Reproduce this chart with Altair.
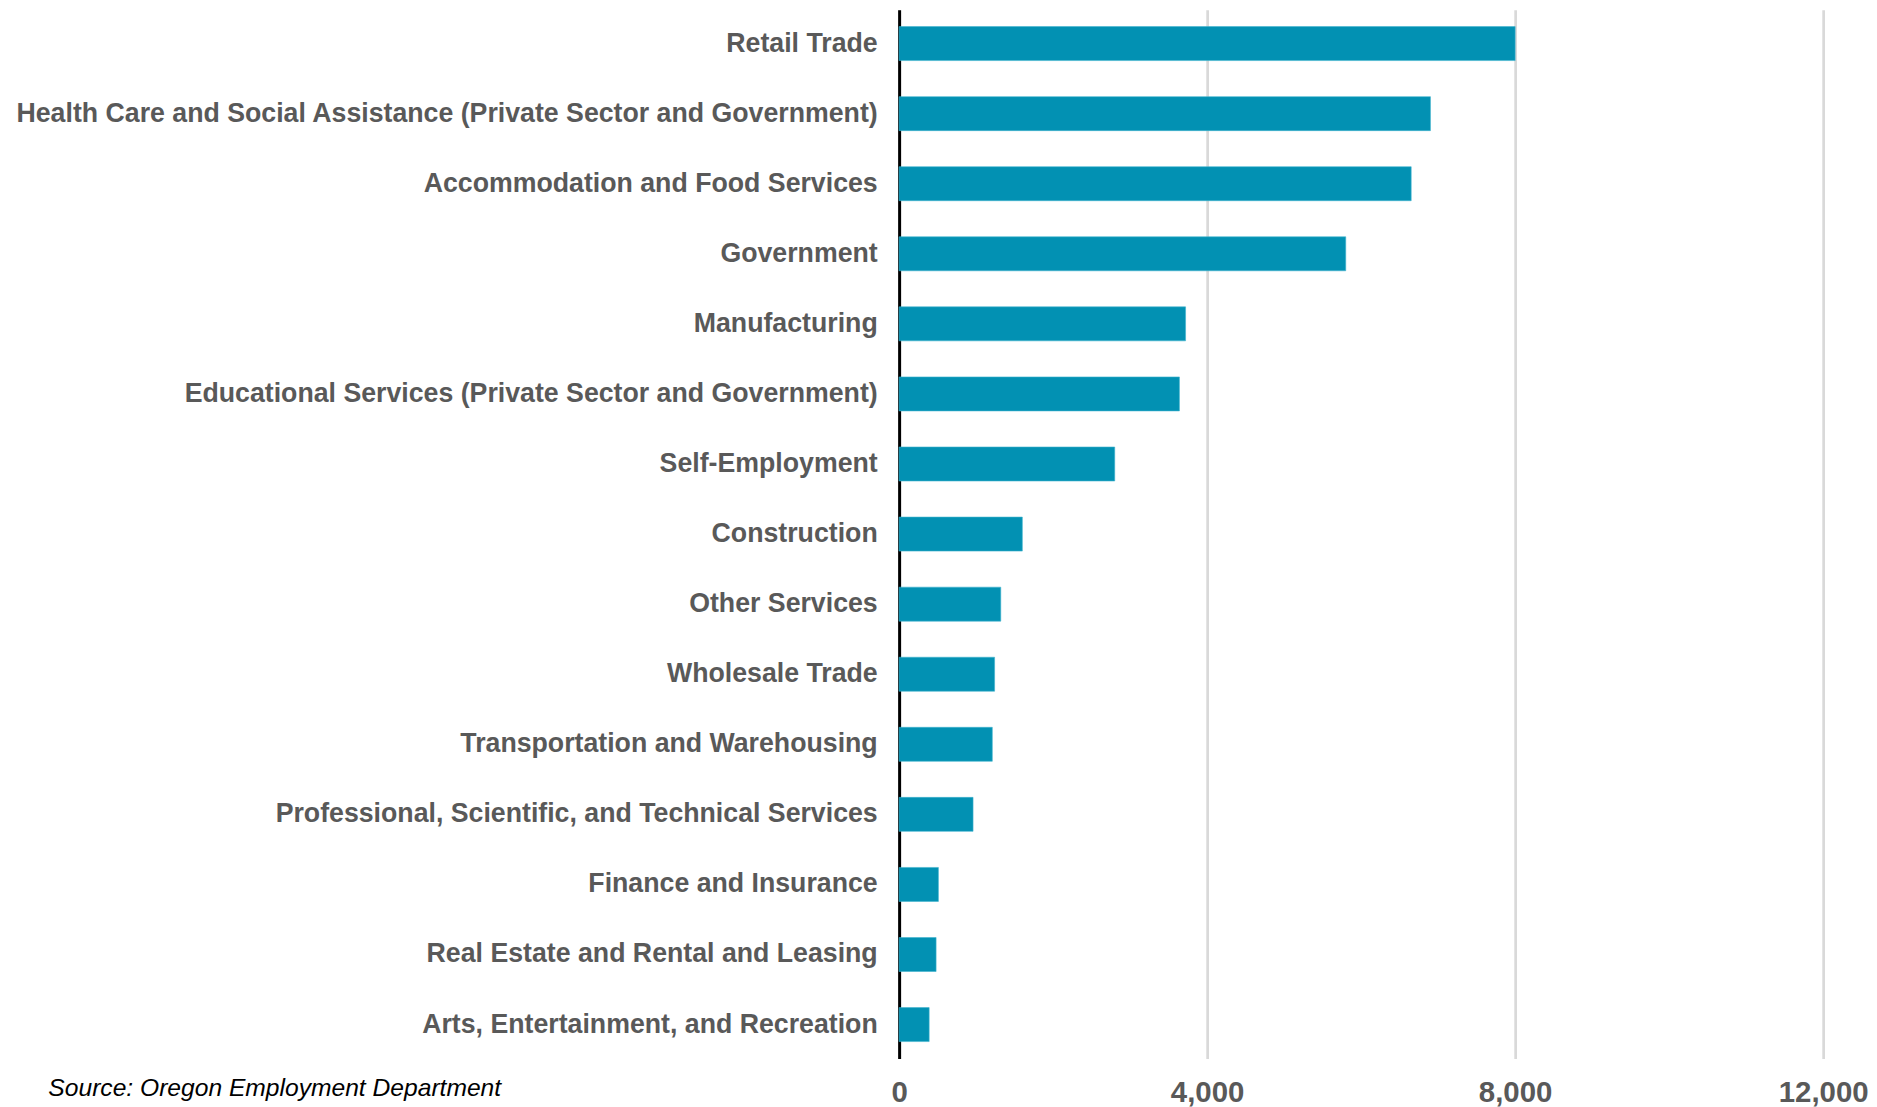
import altair as alt
import pandas as pd

categories = [
    "Retail Trade",
    "Health Care and Social Assistance (Private Sector and Government)",
    "Accommodation and Food Services",
    "Government",
    "Manufacturing",
    "Educational Services (Private Sector and Government)",
    "Self-Employment",
    "Construction",
    "Other Services",
    "Wholesale Trade",
    "Transportation and Warehousing",
    "Professional, Scientific, and Technical Services",
    "Finance and Insurance",
    "Real Estate and Rental and Leasing",
    "Arts, Entertainment, and Recreation",
]
values = [8000, 6900, 6650, 5800, 3720, 3640, 2800, 1600, 1320, 1240, 1210, 960, 510, 480, 390]
x_ticks = [0, 4000, 8000, 12000]
source_note = "Source: Oregon Employment Department"

df = pd.DataFrame({"industry": categories, "jobs": values})

chart = alt.Chart(df).mark_bar(color="#0291b3", stroke="#3fb3cf", strokeWidth=0.6).encode(
    y=alt.Y(
        "industry:N",
        sort=categories,
        title=None,
        scale=alt.Scale(paddingInner=0.515, paddingOuter=0.24),
        axis=alt.Axis(
            labelFont="Liberation Sans",
            labelFontWeight="bold",
            labelFontSize=26.8,
            labelColor="#595959",
            labelPadding=22,
            labelLimit=1000,
            ticks=False,
            domain=True,
            domainColor="#000000",
            domainWidth=3,
            grid=False,
        ),
    ),
    x=alt.X(
        "jobs:Q",
        scale=alt.Scale(domain=[0, 12000], nice=False),
        axis=alt.Axis(
            values=x_ticks,
            format=",d",
            labelFont="Liberation Sans",
            labelFontWeight="bold",
            labelFontSize=29.5,
            labelColor="#595959",
            labelPadding=20,
            labelFlush=False,
            ticks=False,
            domain=False,
            grid=True,
            gridColor="#d9d9d9",
            gridWidth=2.7,
            title=source_note,
            titleFont="Liberation Sans",
            titleFontStyle="italic",
            titleFontWeight="normal",
            titleFontSize=24.7,
            titleColor="#000000",
            titleX=-854,
            titleY=30,
            titleAlign="left",
            titleBaseline="middle",
            titleAnchor="start",
        ),
    ),
).properties(
    width=927,
    height=1052,
    padding={"left": 6, "top": 0, "right": 0, "bottom": 0},
).configure_view(stroke=None)

chart.save("out.html", embed_options={"renderer": "svg", "actions": False})
